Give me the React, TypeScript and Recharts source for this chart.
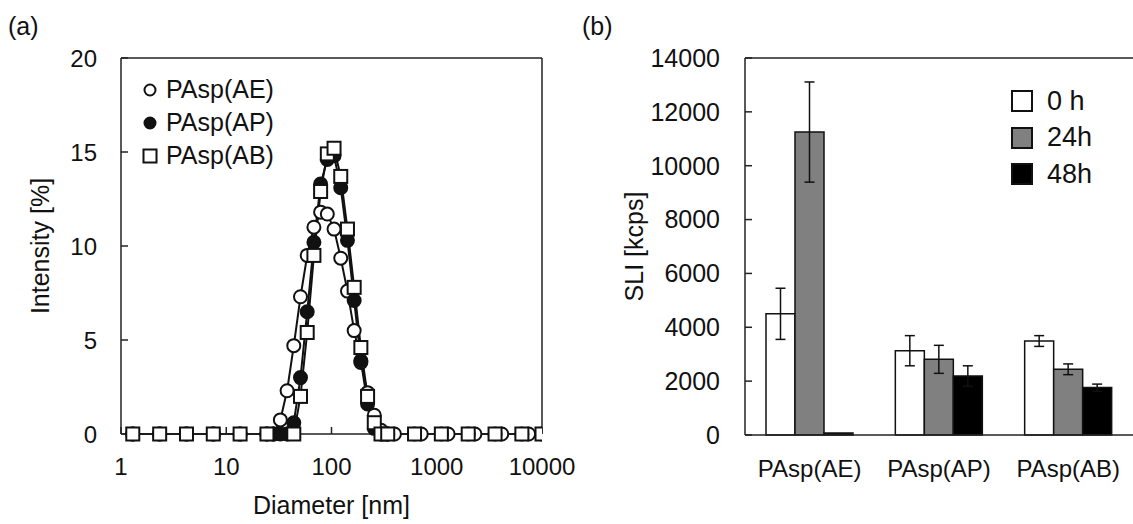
import React from 'react';
import {
  LineChart,
  Line,
  BarChart,
  Bar,
  ErrorBar,
  XAxis,
  YAxis,
  Label,
  ReferenceLine,
} from 'recharts';

const FONT = '"Liberation Sans", Arial, sans-serif';
const INK = '#111';

// (a) DLS size distribution, x in nm, y in %
const aeSize = [1.294, 2.33, 4.19, 7.53, 13.54, 24.36, 28.21, 32.67, 37.84, 43.82, 50.75, 58.77, 68.06, 78.82, 91.28, 105.7, 122.4, 141.8, 164.2, 190.1, 220.2, 255.0, 295.3, 342.0, 396.1, 712.4, 1282, 2305, 4147, 7462];
const aeIntensity = [0, 0, 0, 0, 0, 0, 0, 0.75, 2.3, 4.7, 7.3, 9.5, 11.0, 11.8, 11.7, 10.9, 9.35, 7.6, 5.5, 3.8, 2.2, 1.0, 0.2, 0, 0, 0, 0, 0, 0, 0];

const apSize = [1.294, 2.33, 4.19, 7.53, 13.54, 24.36, 28.21, 32.67, 37.84, 43.82, 50.75, 58.77, 68.06, 78.82, 91.28, 105.7, 122.4, 141.8, 164.2, 190.1, 220.2, 255.0, 295.3, 342.0, 615.1, 1106, 1990, 3580, 6439, 10000];
const apIntensity = [0, 0, 0, 0, 0, 0, 0, 0, 0, 0.6, 3.0, 6.5, 10.2, 13.3, 14.6, 14.8, 13.1, 10.3, 7.1, 3.9, 1.6, 0.3, 0, 0, 0, 0, 0, 0, 0, 0];

const abSize = [1.294, 2.33, 4.19, 7.53, 13.54, 24.36, 43.82, 50.75, 58.77, 68.06, 78.82, 91.28, 105.7, 122.4, 141.8, 164.2, 190.1, 220.2, 255.0, 295.3, 342.0, 615.1, 1106, 1990, 3580, 6439, 10000];
const abIntensity = [0, 0, 0, 0, 0, 0, 0, 2.0, 5.4, 9.5, 12.9, 14.9, 15.2, 13.7, 10.9, 7.8, 4.6, 2.0, 0.6, 0, 0, 0, 0, 0, 0, 0, 0];

const xTicks = [1, 10, 100, 1000, 10000];
const yTicksA = [0, 5, 10, 15, 20];

// (b) scattered light intensity
const groups = ['PAsp(AE)', 'PAsp(AP)', 'PAsp(AB)'];
const sli0h = [4500, 3130, 3490];
const sli24h = [11250, 2810, 2440];
const sli48h = [70, 2190, 1760];
const err0h = [950, 560, 200];
const err24h = [1860, 520, 200];
const err48h = [0, 380, 130];
const yTicksB = [0, 2000, 4000, 6000, 8000, 10000, 12000, 14000];

const toPoints = (xs: number[], ys: number[]) => xs.map((size, i) => ({ size, value: ys[i] }));

const barData = groups.map((name, i) => ({
  name,
  h0: sli0h[i],
  h24: sli24h[i],
  h48: sli48h[i],
  e0: err0h[i],
  e24: err24h[i],
  e48: err48h[i],
}));

const lineSeries = [
  { key: 'ae', name: 'PAsp(AE)', data: toPoints(aeSize, aeIntensity), marker: 'open' },
  { key: 'ap', name: 'PAsp(AP)', data: toPoints(apSize, apIntensity), marker: 'filled' },
  { key: 'ab', name: 'PAsp(AB)', data: toPoints(abSize, abIntensity), marker: 'square' },
];

const barSeries = [
  { key: 'h0', err: 'e0', name: '0 h', fill: '#ffffff' },
  { key: 'h24', err: 'e24', name: '24h', fill: '#808080' },
  { key: 'h48', err: 'e48', name: '48h', fill: '#000000' },
];

function Marker({ type, cx, cy, size = 13 }: { type: string; cx: number; cy: number; size?: number }) {
  if (type === 'square') {
    return (
      <rect x={cx - size / 2} y={cy - size / 2} width={size} height={size} fill="#fff" stroke={INK} strokeWidth={2} />
    );
  }
  return (
    <circle cx={cx} cy={cy} r={size / 2} fill={type === 'filled' ? INK : '#fff'} stroke={INK} strokeWidth={2} />
  );
}

const axisStyle = { stroke: '#222', strokeWidth: 1.5 };
const tickStyle = { fill: INK, fontSize: 24, fontFamily: FONT };

function SizeChart() {
  return (
    <LineChart width={600} height={524} margin={{ top: 58, right: 58, bottom: 0, left: 0 }}>
      <XAxis
        type="number"
        dataKey="size"
        scale="log"
        domain={[1, 10000]}
        ticks={xTicks}
        interval={0}
        allowDataOverflow
        height={90}
        tickSize={-7}
        tickMargin={31}
        axisLine={axisStyle}
        tickLine={axisStyle}
        tick={tickStyle}
      >
        <Label
          content={({ viewBox }: any) => (
            <text x={viewBox.x + viewBox.width / 2} y={514} textAnchor="middle" fontSize={25} fontFamily={FONT} fill={INK}>
              Diameter [nm]
            </text>
          )}
        />
      </XAxis>
      <YAxis
        type="number"
        domain={[0, 20]}
        ticks={yTicksA}
        interval={0}
        width={121}
        tickSize={-7}
        tickMargin={31}
        axisLine={axisStyle}
        tickLine={axisStyle}
        tick={tickStyle}
      >
        <Label
          content={({ viewBox }: any) => {
            const cy = viewBox.y + viewBox.height / 2;
            return (
              <text x={40} y={cy} transform={`rotate(-90 40 ${cy})`} textAnchor="middle" dominantBaseline="central" fontSize={25} fontFamily={FONT} fill={INK}>
                Intensity [%]
              </text>
            );
          }}
        />
      </YAxis>
      <ReferenceLine y={20} stroke="#222" strokeWidth={1.5} />
      <ReferenceLine x={10000} stroke="#222" strokeWidth={1.5} />
      {lineSeries.map((s) => (
        <Line
          key={s.key}
          data={s.data}
          dataKey="value"
          name={s.name}
          type="linear"
          stroke={INK}
          strokeWidth={2}
          isAnimationActive={false}
          activeDot={false}
          dot={(p: any) => <Marker key={`${s.key}-${p.index}`} type={s.marker} cx={p.cx} cy={p.cy} />}
        />
      ))}
    </LineChart>
  );
}

function SliChart() {
  return (
    <BarChart
      width={533}
      height={524}
      data={barData}
      margin={{ top: 58, right: 0, bottom: 0, left: 0 }}
      barCategoryGap={21}
      barGap={0}
    >
      <XAxis
        dataKey="name"
        height={89}
        tickSize={0}
        tickMargin={25}
        axisLine={axisStyle}
        tickLine={false}
        tick={tickStyle}
        interval={0}
      />
      <YAxis
        type="number"
        domain={[0, 14000]}
        ticks={yTicksB}
        interval={0}
        width={145}
        tickSize={-7}
        tickMargin={32}
        axisLine={axisStyle}
        tickLine={axisStyle}
        tick={{ ...tickStyle, fontSize: 25 }}
      >
        <Label
          content={({ viewBox }: any) => {
            const cy = viewBox.y + viewBox.height / 2;
            return (
              <text x={34} y={cy} transform={`rotate(-90 34 ${cy})`} textAnchor="middle" dominantBaseline="central" fontSize={25} fontFamily={FONT} fill={INK}>
                SLI [kcps]
              </text>
            );
          }}
        />
      </YAxis>
      <ReferenceLine y={14000} stroke="#222" strokeWidth={1.5} />
      {barSeries.map((s) => (
        <Bar key={s.key} dataKey={s.key} name={s.name} fill={s.fill} stroke={INK} strokeWidth={1.5} isAnimationActive={false}>
          <ErrorBar dataKey={s.err} width={5} stroke={INK} strokeWidth={1.5} direction="y" />
        </Bar>
      ))}
    </BarChart>
  );
}

function SizeLegend() {
  return (
    <div style={{ position: 'absolute', left: 138, top: 73, fontFamily: FONT, fontSize: 25, color: INK }}>
      {lineSeries.map((s) => (
        <div key={s.key} style={{ display: 'flex', alignItems: 'center', height: 33 }}>
          <svg width={24} height={24} style={{ marginRight: 4 }}>
            <Marker type={s.marker} cx={12} cy={12} size={s.marker === 'square' ? 13 : 11} />
          </svg>
          <span>{s.name}</span>
        </div>
      ))}
    </div>
  );
}

function SliLegend() {
  return (
    <div style={{ position: 'absolute', left: 1011, top: 83, fontFamily: FONT, fontSize: 27, color: INK }}>
      {barSeries.map((s) => (
        <div key={s.key} style={{ display: 'flex', alignItems: 'center', height: 36.5 }}>
          <svg width={22} height={22} style={{ marginRight: 14 }}>
            <rect x={1} y={1} width={20} height={20} fill={s.fill} stroke={INK} strokeWidth={2} />
          </svg>
          <span>{s.name}</span>
        </div>
      ))}
    </div>
  );
}

export default function App() {
  const panelLabel: React.CSSProperties = {
    position: 'absolute',
    top: 14,
    fontFamily: FONT,
    fontSize: 25,
    lineHeight: 1,
    color: INK,
  };
  return (
    <div style={{ position: 'absolute', left: 0, top: 0, width: 1133, height: 524, background: '#fff', overflow: 'hidden' }}>
      <div style={{ ...panelLabel, left: 8 }}>(a)</div>
      <div style={{ ...panelLabel, left: 582 }}>(b)</div>
      <div style={{ position: 'absolute', left: 0, top: 0 }}>
        <SizeChart />
      </div>
      <div style={{ position: 'absolute', left: 600, top: 0 }}>
        <SliChart />
      </div>
      <SizeLegend />
      <SliLegend />
    </div>
  );
}
